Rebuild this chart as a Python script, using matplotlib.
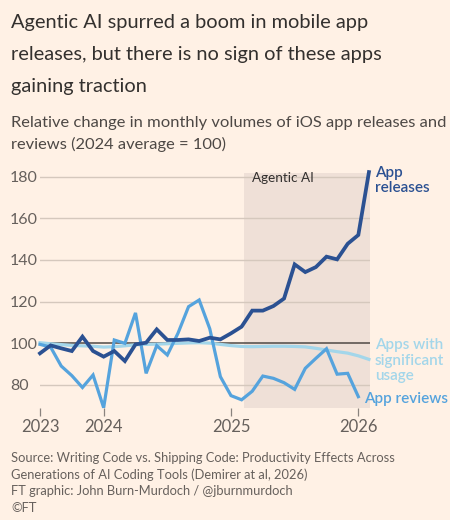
import matplotlib
matplotlib.use("Agg")
import matplotlib.pyplot as plt
import numpy as np

months = ["2023-07","2023-08","2023-09","2023-10","2023-11","2023-12",
          "2024-01","2024-02","2024-03","2024-04","2024-05","2024-06",
          "2024-07","2024-08","2024-09","2024-10","2024-11","2024-12",
          "2025-01","2025-02","2025-03","2025-04","2025-05","2025-06",
          "2025-07","2025-08","2025-09","2025-10","2025-11","2025-12",
          "2026-01","2026-02"]

app_releases = [95.2, 99.0, 97.6, 96.3, 103.2, 96.3, 93.6, 96.3, 91.5, 99.5,
                100.3, 106.7, 101.6, 101.6, 101.9, 101.1, 102.7, 101.9, 104.8, 108.0,
                115.7, 115.7, 117.9, 121.5, 137.9, 134.2, 136.6, 141.6, 140.3, 147.8,
                152.0, 182.2]

app_reviews = [99.5, 98.2, 89.1, 84.5, 78.8, 84.8, 69.1, 101.6, 100.0, 114.6,
               85.6, 98.9, 94.4, 104.8, 117.6, 120.8, 107.0, 84.0, 74.9, 72.9,
               77.0, 84.3, 83.2, 81.1, 77.9, 88.0, 92.8, 97.4, 85.2, 85.6,
               74.4]

sig_usage = [100.3, 99.8, 99.4, 99.0, 98.8, 98.6, 98.2, 98.4, 98.8, 99.3,
             99.5, 99.6, 99.8, 100.0, 100.2, 100.3, 100.1, 99.5, 98.9, 98.5,
             98.4, 98.5, 98.6, 98.6, 98.5, 98.3, 97.6, 96.8, 96.0, 95.3,
             94.0, 92.3]

y_ticks = [80, 100, 120, 140, 160, 180]
x_tick_months = ["2023-07", "2024-01", "2025-01", "2026-01"]
x_tick_labels = ["2023", "2024", "2025", "2026"]
shade_start, shade_end = 19.2, 31.1

BG = "#fff1e5"
C_REL = "#2b5192"
C_REV = "#55a3dd"
C_USE = "#a3d6ea"
TXT = "#33302e"
GREY = "#66605c"

FONT = "Lato"
plt.rcParams["font.family"] = [FONT, "DejaVu Sans"]

fig = plt.figure(figsize=(4.5, 5.2), dpi=100, facecolor=BG)
ax = fig.add_axes([40/450, 112.5/520, 330/450, 234.8/520])
ax.set_facecolor(BG)

x = np.arange(len(months))
ax.axvspan(shade_start, shade_end, color="#efe0d7", zorder=0, lw=0)
for v in y_ticks:
    if v != 100:
        ax.axhline(v, color="#d5c8bd", lw=1.0, zorder=1)
ax.axhline(100, color="#4f4945", lw=1.1, zorder=1)

ax.plot(x, sig_usage, color=C_USE, lw=2.3, zorder=2, solid_joinstyle="miter", clip_on=False)
ax.plot(np.arange(len(app_reviews)), app_reviews, color=C_REV, lw=2.3, zorder=3,
        solid_joinstyle="miter", clip_on=False)
ax.plot(x, app_releases, color=C_REL, lw=2.7, zorder=4, solid_joinstyle="miter", clip_on=False)

ax.set_xlim(0, 31.1)
ax.set_ylim(69.2, 181.9)
for s in ax.spines.values():
    s.set_visible(False)

ax.set_yticks(y_ticks)
ax.set_yticklabels([str(v) for v in y_ticks])
ax.tick_params(axis="y", length=0, pad=21.6, labelsize=11.5, labelcolor=GREY)
for lab in ax.get_yticklabels():
    lab.set_horizontalalignment("left")

ax.set_xticks([months.index(m) for m in x_tick_months])
ax.set_xticklabels(x_tick_labels)
ax.tick_params(axis="x", length=5.5, width=0.9, color="#8a837e", pad=3,
               labelsize=12, labelcolor=GREY)

# annotations
ax.text(20.0, 177.5, "Agentic AI", fontsize=9.7, color=TXT, va="baseline", ha="left")
fig.text(375/450, 1 - 177/520, "App", fontsize=11, color=C_REL, fontweight="semibold", va="baseline")
fig.text(375/450, 1 - 192/520, "releases", fontsize=11, color=C_REL, fontweight="semibold", va="baseline")
fig.text(375/450, 1 - 349/520, "Apps with", fontsize=11, color=C_USE, fontweight="semibold", va="baseline")
fig.text(375/450, 1 - 365/520, "significant", fontsize=11, color=C_USE, fontweight="semibold", va="baseline")
fig.text(375/450, 1 - 380/520, "usage", fontsize=11, color=C_USE, fontweight="semibold", va="baseline")
fig.text(364/450, 1 - 403/520, "App reviews", fontsize=11, color=C_REV, fontweight="semibold", va="baseline")

# title and subtitle
for i, line in enumerate(["Agentic AI spurred a boom in mobile app",
                          "releases, but there is no sign of these apps",
                          "gaining traction"]):
    fig.text(11/450, 1 - (28 + 32*i)/520, line, fontsize=14.4, color=TXT, va="baseline")
for i, line in enumerate(["Relative change in monthly volumes of iOS app releases and",
                          "reviews (2024 average = 100)"]):
    fig.text(11/450, 1 - (127 + 22*i)/520, line, fontsize=11.85, color="#4d4845", va="baseline")

for i, line in enumerate(["Source: Writing Code vs. Shipping Code: Productivity Effects Across",
                          "Generations of AI Coding Tools (Demirer at al, 2026)",
                          "FT graphic: John Burn-Murdoch / @jburnmurdoch",
                          "\u00a9FT"]):
    fig.text(11/450, 1 - (462 + 16.7*i)/520, line, fontsize=9.25, color=GREY, va="baseline")

fig.savefig("out.png", dpi=100, facecolor=BG)
